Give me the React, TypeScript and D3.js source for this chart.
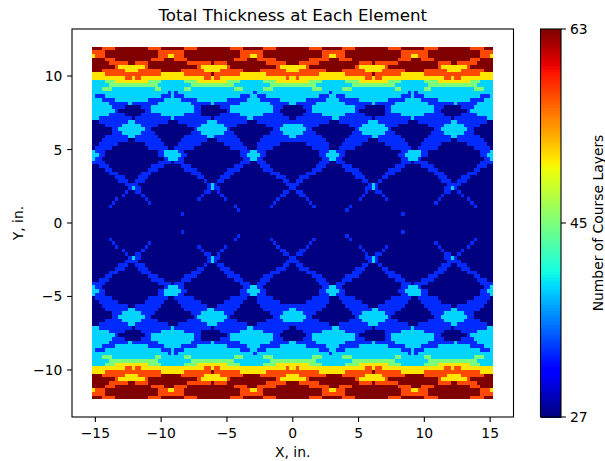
import React from "react";
import * as d3 from "d3";

const WIDTH = 605;
const HEIGHT = 461;

// course layer counts that show up in the picture
const layerValues = [27, 33, 39, 45, 51, 57, 63];
const colorTicks = [27, 45, 63];
const xTicks = [-15, -10, -5, 0, 5, 10, 15];
const yTicks = [-10, -5, 0, 5, 10];

// "col:level" = level (index in layerValues) starts at this column.
// The picture is mirrored about x=0 and y=0, so the other quarters are reflected below.
const quarterRows = [
  "0:6 3:5 7:6 17:5 21:6 28:5 32:6 42:5 46:6 52:5 56:6",
  "0:5 4:6 20:5 28:6 45:5 52:6",
  "0:4 1:5 4:6 20:5 23:4 25:5 28:6 45:5 48:4 50:5 52:6",
  "0:6 4:5 7:6 18:5 22:6 25:5 29:6 43:5 47:6 50:5 56:6",
  "0:6 5:5 11:6 13:5 17:6 29:5 36:6 37:5 41:6 53:5 59:6",
  "0:6 7:5 8:4 16:5 17:6 32:5 33:4 41:5 42:6 56:5 57:4",
  "0:6 3:5 10:4 14:5 21:6 27:5 34:4 39:5 46:6 51:5 59:4",
  "0:4 4:5 21:4 28:5 36:6 37:5 45:4 53:5",
  "0:4 10:5 12:4 13:5 15:4 34:5 36:4 37:5 39:4 59:5 60:4",
  "0:2 4:3 7:4 17:3 21:2 28:3 32:4 41:3 45:2 52:3 56:4",
  "0:2 5:3 20:2 30:3 43:2 54:3",
  "0:2 3:3 6:2 19:3 21:2 28:3 30:2 43:3 46:2 52:3 55:2",
  "0:2 23:1 24:2 25:1 26:2 49:1 50:2",
  "0:2 1:1 4:2 21:1 24:2 25:1 28:2 45:1 48:2 50:1 53:2",
  "0:2 3:1 7:2 17:1 22:2 27:1 32:2 41:1 47:2 51:1 57:2",
  "0:2 5:1 11:2 12:1 20:2 30:1 36:2 37:1 45:2 54:1 60:2",
  "0:2 6:1 10:0 15:1 18:2 31:1 33:0 39:1 42:2 55:1 58:0",
  "0:2 7:1 8:0 16:1 18:2 31:1 33:0 41:1 42:2 55:1 57:0",
  "0:2 5:1 10:0 15:1 21:2 28:1 33:0 39:1 45:2 52:1 58:0",
  "0:2 2:1 12:0 13:1 24:2 25:1 36:0 37:1 47:2 49:1 60:0",
  "0:0 2:1 11:2 13:1 23:0 26:1 35:2 38:1 47:0 50:1",
  "0:0 4:1 9:2 15:1 20:0 29:1 33:2 40:1 44:0 53:1 58:2",
  "0:0 6:1 8:2 16:1 18:0 31:1 32:2 41:1 42:0 55:1 57:2",
  "0:0 6:1 9:2 15:1 19:0 30:1 33:2 40:1 43:0 54:1 58:2",
  "0:0 4:1 11:2 13:1 20:0 28:1 35:2 37:1 44:0 52:1 60:2",
  "0:0 3:1 11:0 13:1 21:0 27:1 35:0 38:1 45:0 51:1",
  "0:0 2:1 8:0 16:1 22:0 26:1 33:0 40:1 46:0 50:1 57:0",
  "0:0 1:1 6:0 17:1 23:0 25:1 31:0 42:1 47:0 50:1 55:0",
  "0:2 1:1 4:0 20:1 22:2 26:1 28:0 45:1 48:2 50:1 53:0",
  "0:2 2:1 4:0 20:1 22:2 27:1 29:0 45:1 47:2 51:1 53:0",
  "0:2 1:1 3:0 22:1 23:2 26:1 28:0 46:1 48:2 50:1 52:0",
  "0:1 4:0 20:1 24:0 25:1 28:0 45:1 48:0 50:1 53:0",
  "0:0 2:1 5:0 18:1 22:0 27:1 30:0 43:1 46:0 51:1 54:0",
  "0:0 4:1 6:0 17:1 20:0 28:1 32:0 41:1 45:0 52:1 55:0",
  "0:0 5:1 8:0 15:1 18:0 30:1 33:0 40:1 43:0 54:1 57:0",
  "0:0 7:1 10:0 14:1 17:0 32:1 34:0 39:1 42:0 56:1 59:0",
  "0:0 8:1 11:0 13:1 16:0 34:1 35:0 38:1 40:0 58:1 60:0",
  "0:0 10:1 14:0 35:1 36:2 37:1 38:0 59:1",
  "0:0 11:1 12:2 13:1 15:0 35:1 36:2 37:1 39:0 60:1",
  "0:0 10:1 11:0 13:1 15:0 34:1 36:0 38:1 39:0 58:1 60:0",
  "0:0 9:1 10:0 15:1 16:0 33:1 34:0 39:1 40:0 57:1 59:0",
  "0:0 7:1 8:0 16:1 17:0 32:1 33:0 40:1 41:0 56:1 57:0",
  "0:0 6:1 7:0 17:1 18:0 55:1 56:0",
  "0:0 5:1 6:0 43:1 44:0 54:1 55:0",
  "0:0 44:1 45:0",
  "0:0 27:1 28:0",
  "0:0",
  "0:0",
];

const CELL = 0.25;
const HALF_COLS = 61;

function expandRow(row: string) {
  const cells = new Array(HALF_COLS).fill(0);
  const parts = row.split(" ").map((p) => p.split(":").map(Number));
  parts.forEach(([col, level], i) => {
    const end = i + 1 < parts.length ? parts[i + 1][0] : HALF_COLS;
    cells.fill(layerValues[level], col, end);
  });
  return [...cells, ...[...cells].reverse()];
}

const upper = quarterRows.map(expandRow);
const grid = [...upper, ...[...upper].reverse()];

// matplotlib jet
const jetR = d3.scaleLinear().domain([0, 0.35, 0.66, 0.89, 1]).range([0, 0, 1, 1, 0.5]);
const jetG = d3.scaleLinear().domain([0, 0.125, 0.375, 0.64, 0.91, 1]).range([0, 0, 1, 1, 0, 0]);
const jetB = d3.scaleLinear().domain([0, 0.11, 0.34, 0.65, 1]).range([0.5, 1, 1, 0, 0]);
const jet = (t: number) =>
  d3.rgb(jetR(t) * 255, jetG(t) * 255, jetB(t) * 255).formatHex();

export default function App() {
  const font = "'DejaVu Sans', sans-serif";
  const left = 72;
  const right = 513.5;
  const top = 29;
  const bottom = 417;
  const barLeft = 540.5;
  const barRight = 561;
  const tickLen = 4.9;
  const tickSize = 13.89;
  const spine = 1.1;

  const xScale = d3.scaleLinear().domain([-16.775, 16.775]).range([left, right]);
  const yScale = d3.scaleLinear().domain([-13.2, 13.2]).range([bottom, top]);
  const colorScale = d3.scaleLinear().domain([27, 63]).range([0, 1]);
  const barScale = d3.scaleLinear().domain([27, 63]).range([bottom, top]);

  const nCols = grid[0].length;
  const x0 = -(nCols * CELL) / 2;
  const y0 = (grid.length * CELL) / 2;

  // merge equal neighbours in a row so there are no seams
  const runs: { r: number; c0: number; c1: number; v: number }[] = [];
  grid.forEach((row, r) => {
    let c0 = 0;
    row.forEach((v, c) => {
      if (c === nCols - 1 || row[c + 1] !== v) {
        runs.push({ r, c0, c1: c + 1, v });
        c0 = c + 1;
      }
    });
  });

  const barSteps = d3.range(256);

  return (
    <svg
      width={WIDTH}
      height={HEIGHT}
      style={{ position: "absolute", left: 0, top: 0, display: "block", background: "#fff" }}
      fontFamily={font}
    >
      <g shapeRendering="crispEdges">
        {runs.map((d, i) => (
          <rect
            key={i}
            x={xScale(x0 + d.c0 * CELL)}
            width={xScale(x0 + d.c1 * CELL) - xScale(x0 + d.c0 * CELL)}
            y={yScale(y0 - d.r * CELL)}
            height={yScale(y0 - (d.r + 1) * CELL) - yScale(y0 - d.r * CELL)}
            fill={jet(colorScale(d.v))}
          />
        ))}
      </g>

      {/* Axes */}
      <rect x={left} y={top} width={right - left} height={bottom - top} fill="none" stroke="#000" strokeWidth={spine} />
      {xTicks.map((t) => (
        <g key={t}>
          <line x1={xScale(t)} x2={xScale(t)} y1={bottom} y2={bottom + tickLen} stroke="#000" strokeWidth={spine} />
          <text x={xScale(t)} y={bottom + 20.5} textAnchor="middle" fontSize={tickSize} fill="#000">
            {t < 0 ? `\u2212${-t}` : t}
          </text>
        </g>
      ))}
      {yTicks.map((t) => (
        <g key={t}>
          <line x1={left - tickLen} x2={left} y1={yScale(t)} y2={yScale(t)} stroke="#000" strokeWidth={spine} />
          <text x={left - 9.7} y={yScale(t) + 5} textAnchor="end" fontSize={tickSize} fill="#000">
            {t < 0 ? `\u2212${-t}` : t}
          </text>
        </g>
      ))}
      <text x={(left + right) / 2} y={457} textAnchor="middle" fontSize={tickSize} fill="#000">
        X, in.
      </text>
      <text
        transform={`translate(23,${(top + bottom) / 2}) rotate(-90)`}
        textAnchor="middle"
        fontSize={tickSize}
        fill="#000"
      >
        Y, in.
      </text>
      <text x={(left + right) / 2} y={21} textAnchor="middle" fontSize={16.67} fill="#000">
        Total Thickness at Each Element
      </text>

      {/* Colorbar */}
      <g shapeRendering="crispEdges">
        {barSteps.map((s) => (
          <rect
            key={s}
            x={barLeft}
            width={barRight - barLeft}
            y={bottom - ((s + 1) / 256) * (bottom - top)}
            height={(bottom - top) / 256 + 0.5}
            fill={jet(s / 255)}
          />
        ))}
      </g>
      <rect x={barLeft} y={top} width={barRight - barLeft} height={bottom - top} fill="none" stroke="#000" strokeWidth={spine} />
      {colorTicks.map((t) => (
        <g key={t}>
          <line x1={barRight} x2={barRight + tickLen} y1={barScale(t)} y2={barScale(t)} stroke="#000" strokeWidth={spine} />
          <text x={barRight + 9} y={barScale(t) + 5} fontSize={tickSize} fill="#000">
            {t}
          </text>
        </g>
      ))}
      <text
        transform={`translate(603,${(top + bottom) / 2}) rotate(-90)`}
        textAnchor="middle"
        fontSize={tickSize}
        fill="#000"
      >
        Number of Course Layers
      </text>
    </svg>
  );
}
